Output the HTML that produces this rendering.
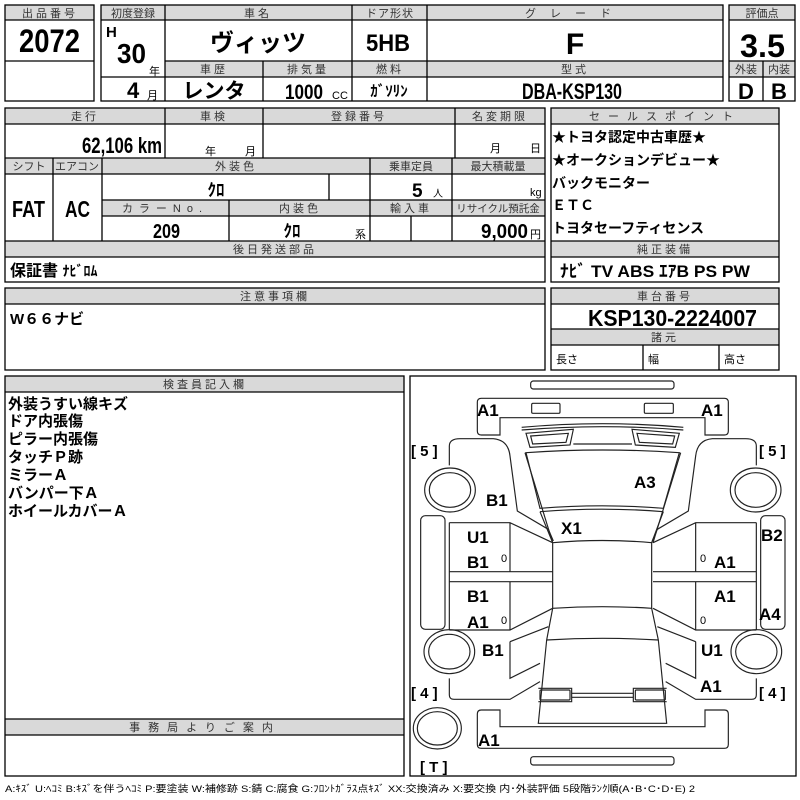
<!DOCTYPE html>
<html><head><meta charset="utf-8"><style>
html,body{margin:0;padding:0;background:#fff}
svg{display:block}
text{font-family:"Liberation Sans","Noto Sans CJK JP",sans-serif;fill:#000}
.h{font-size:11px;fill:#333;text-anchor:middle;letter-spacing:3px}
.b{font-weight:bold;font-family:"Liberation Sans","Noto Sans CJK JP",sans-serif}
.c{text-anchor:middle}
.l{font-weight:bold;font-size:17px;font-family:"Liberation Sans","Noto Sans CJK JP",sans-serif}
</style></head><body>
<svg width="800" height="800" viewBox="0 0 800 800" xmlns="http://www.w3.org/2000/svg">
<g fill="#d9d9d9" stroke="none">
<rect x="5" y="5" width="89" height="15"/>
<rect x="101" y="5" width="622" height="15"/>
<rect x="165" y="61" width="558" height="16"/>
<rect x="729" y="5" width="66" height="15"/>
<rect x="729" y="61" width="66" height="16"/>
<rect x="5" y="108" width="540" height="16"/>
<rect x="5" y="158" width="540" height="16"/>
<rect x="102" y="200" width="443" height="16"/>
<rect x="5" y="241" width="540" height="16"/>
<rect x="551" y="108" width="228" height="16"/>
<rect x="551" y="241" width="228" height="16"/>
<rect x="5" y="288" width="540" height="16"/>
<rect x="551" y="288" width="228" height="16"/>
<rect x="551" y="329" width="228" height="16"/>
<rect x="5" y="376" width="399" height="16"/>
<rect x="5" y="719" width="399" height="16"/>
</g>
<g fill="none" stroke="#000" stroke-width="1.3">
<rect x="5" y="5" width="89" height="96"/>
<path d="M5 20H94M5 61H94"/>
<rect x="101" y="5" width="622" height="96"/>
<path d="M101 20H723M165 61H723M101 77H723M165 5V101M352 5V101M427 5V101M263 61V101"/>
<rect x="729" y="5" width="66" height="96"/>
<path d="M729 20H795M729 61H795M729 77H795M763 61V101"/>
<rect x="5" y="108" width="540" height="174"/>
<path d="M5 124H545M5 158H545M5 174H545M102 200H545M102 216H545M5 241H545M5 257H545"/>
<path d="M165 108V158M263 108V158M455 108V158M53 158V241M102 158V241M370 158V241M452 158V241M329 174V200M229 200V241M411 216V241"/>
<rect x="551" y="108" width="228" height="174"/>
<path d="M551 124H779M551 241H779M551 257H779"/>
<rect x="5" y="288" width="540" height="82"/>
<path d="M5 304H545"/>
<rect x="551" y="288" width="228" height="82"/>
<path d="M551 304H779M551 329H779M551 345H779M643 345V370M719 345V370"/>
<rect x="5" y="376" width="399" height="400"/>
<path d="M5 392H404M5 719H404M5 735H404"/>
<rect x="410" y="376" width="386" height="400"/>
</g>
<text class="h" x="50" y="17">出品番号</text>
<text class="h" x="133" y="17" style="letter-spacing:0">初度登録</text>
<text class="h" x="258" y="17">車名</text>
<text class="h" x="390" y="17" style="letter-spacing:1px">ドア形状</text>
<text class="h" x="575" y="17" style="letter-spacing:14px">グレード</text>
<text class="h" x="762" y="17" style="letter-spacing:0">評価点</text>
<text class="h" x="214" y="73">車歴</text>
<text class="h" x="308" y="73">排気量</text>
<text class="h" x="390" y="73">燃料</text>
<text class="h" x="575" y="73">型式</text>
<text class="h" x="746" y="73" style="letter-spacing:0">外装</text>
<text class="h" x="779" y="73" style="letter-spacing:0">内装</text>
<text class="b" x="19" y="52" font-size="32" textLength="61" lengthAdjust="spacingAndGlyphs">2072</text>
<text class="b" x="106" y="37" font-size="15">H</text>
<text class="b" x="117" y="63" font-size="28" textLength="29" lengthAdjust="spacingAndGlyphs">30</text>
<text x="149" y="75" font-size="11">年</text>
<text class="b" x="127" y="98" font-size="22">4</text>
<text x="147" y="99" font-size="11">月</text>
<text class="b c" x="258" y="51" font-size="24">ヴィッツ</text>
<text class="b" x="366" y="51" font-size="24" textLength="44" lengthAdjust="spacingAndGlyphs">5HB</text>
<text class="b c" x="575" y="54" font-size="30">F</text>
<text class="b" x="740" y="57" font-size="32" textLength="45" lengthAdjust="spacingAndGlyphs">3.5</text>
<text class="b c" x="214" y="98" font-size="21">レンタ</text>
<text class="b" x="285" y="99" font-size="21" textLength="38" lengthAdjust="spacingAndGlyphs">1000</text>
<text x="332" y="99" font-size="11">CC</text>
<text class="b c" x="389" y="96" font-size="15">ｶﾞｿﾘﾝ</text>
<text class="b" x="522" y="99" font-size="22" textLength="100" lengthAdjust="spacingAndGlyphs">DBA-KSP130</text>
<text class="b c" x="746" y="99" font-size="22">D</text>
<text class="b c" x="779" y="99" font-size="22">B</text>
<text class="h" x="85" y="120">走行</text>
<text class="h" x="214" y="120">車検</text>
<text class="h" x="359" y="120">登録番号</text>
<text class="h" x="500" y="120">名変期限</text>
<text class="b" x="82" y="153" font-size="22" textLength="80" lengthAdjust="spacingAndGlyphs">62,106 km</text>
<text x="205" y="155" font-size="11">年</text>
<text x="245" y="155" font-size="11">月</text>
<text x="490" y="152" font-size="11">月</text>
<text x="530" y="152" font-size="11">日</text>
<text class="h" x="29" y="170" style="letter-spacing:0">シフト</text>
<text class="h" x="77" y="170" style="letter-spacing:0">エアコン</text>
<text class="h" x="236" y="170">外装色</text>
<text class="h" x="411" y="170" style="letter-spacing:0">乗車定員</text>
<text class="h" x="498" y="170" style="letter-spacing:0">最大積載量</text>
<text class="b" x="12" y="217" font-size="23" textLength="33" lengthAdjust="spacingAndGlyphs">FAT</text>
<text class="b" x="65" y="217" font-size="23" textLength="25" lengthAdjust="spacingAndGlyphs">AC</text>
<text class="b c" x="216" y="196" font-size="17">ｸﾛ</text>
<text class="b" x="412" y="197" font-size="19">5</text>
<text x="433" y="197" font-size="10">人</text>
<text x="530" y="196" font-size="11">kg</text>
<text class="h" x="165" y="212" style="letter-spacing:6px">カラーNo.</text>
<text class="h" x="300" y="212">内装色</text>
<text class="h" x="411" y="212">輸入車</text>
<text class="h" x="498" y="212" style="letter-spacing:0;font-size:10.5px">リサイクル預託金</text>
<text class="b" x="153" y="238" font-size="20" textLength="27" lengthAdjust="spacingAndGlyphs">209</text>
<text class="b c" x="292" y="237" font-size="17">ｸﾛ</text>
<text x="355" y="238" font-size="11">系</text>
<text class="b" x="481" y="238" font-size="20" textLength="47" lengthAdjust="spacingAndGlyphs">9,000</text>
<text x="530" y="238" font-size="11">円</text>
<text class="h" x="275" y="253">後日発送部品</text>
<text class="b" x="10" y="276" font-size="16">保証書 <tspan font-size="14">ﾅﾋﾞﾛﾑ</tspan></text>
<text class="h" x="665" y="120" style="letter-spacing:8px">セールスポイント</text>
<g font-weight="bold" font-size="14">
<text x="552" y="142">★トヨタ認定中古車歴★</text>
<text x="552" y="165">★オークションデビュー★</text>
<text x="552" y="188">バックモニター</text>
<text x="552" y="210">ＥＴＣ</text>
<text x="552" y="233">トヨタセーフティセンス</text>
</g>
<text class="h" x="665" y="253">純正装備</text>
<text class="b" x="560" y="277" font-size="17" textLength="190" lengthAdjust="spacingAndGlyphs">ﾅﾋﾞ  TV  ABS ｴｱB PS PW</text>
<text class="h" x="275" y="300">注意事項欄</text>
<text class="b" x="10" y="324" font-size="15">W６６ナビ</text>
<text class="h" x="665" y="300">車台番号</text>
<text class="b" x="588" y="326" font-size="23" textLength="169" lengthAdjust="spacingAndGlyphs">KSP130-2224007</text>
<text class="h" x="665" y="341">諸元</text>
<text x="556" y="363" font-size="11">長さ</text>
<text x="648" y="363" font-size="11">幅</text>
<text x="724" y="363" font-size="11">高さ</text>
<text class="h" x="205" y="388">検査員記入欄</text>
<g font-weight="bold" font-size="15">
<text x="8" y="409">外装うすい線キズ</text>
<text x="8" y="426">ドア内張傷</text>
<text x="8" y="444">ピラー内張傷</text>
<text x="8" y="462">タッチＰ跡</text>
<text x="8" y="480">ミラーＡ</text>
<text x="8" y="498">バンパー下Ａ</text>
<text x="8" y="516">ホイールカバーＡ</text>
</g>
<text class="h" x="205" y="731" style="letter-spacing:8px">事務局よりご案内</text>
<text x="5" y="792" font-size="9.5" fill="#333" textLength="690" lengthAdjust="spacingAndGlyphs">A:ｷｽﾞ U:ﾍｺﾐ B:ｷｽﾞを伴うﾍｺﾐ P:要塗装 W:補修跡 S:錆 C:腐食 G:ﾌﾛﾝﾄｶﾞﾗｽ点ｷｽﾞ XX:交換済み X:要交換  内･外装評価  5段階ﾗﾝｸ順(A･B･C･D･E) 2</text>
<g transform="translate(400,370) scale(0.33333)" fill="none" stroke="#222" stroke-width="3.5">
<rect x="392" y="33" width="430" height="24" rx="8"/>
<rect x="392" y="1160" width="430" height="25" rx="8"/>
<path d="M244 85H973Q985 85 985 97V183Q985 195 973 195H915V143H300V195H244Q232 195 232 183V97Q232 85 244 85Z"/>
<path d="M244 1135H973Q985 1135 985 1123V1032Q985 1020 973 1020H915V1070H300V1020H244Q232 1020 232 1032V1123Q232 1135 244 1135Z"/>
<rect x="395" y="100" width="85" height="30" rx="4"/>
<rect x="733" y="100" width="87" height="30" rx="4"/>
<path d="M365 172Q607 150 850 172M365 180Q607 160 850 180"/>
<path d="M378 190L520 178L510 225L390 232Z M392 198L505 190L498 217L398 222Z"/>
<path d="M838 190L696 178L706 225L826 232Z M824 198L711 190L718 217L818 222Z"/>
<path d="M520 222H696"/>
<path d="M378 248Q607 232 838 248L790 415Q607 400 420 415Z"/>
<path d="M420 425Q607 410 790 425M420 425L458 518M790 425L755 518"/>
<path d="M458 518Q607 505 755 518V715Q607 705 458 715Z"/>
<path d="M458 715L440 810Q607 800 775 810L755 715M440 810L415 1060H800L775 810"/>
<path d="M415 955H515V995H415M800 955H700V995H800M515 970H700M515 982H700"/>
<rect x="420" y="960" width="90" height="30" rx="3"/>
<rect x="706" y="960" width="90" height="30" rx="3"/>
<g id="side">
<path d="M148 286V228Q148 206 180 206H280Q325 210 330 258L352 423L445 478L460 513"/>
<path d="M375 248L458 518"/>
<path d="M148 458H330L458 518M330 458V605M148 458V780M148 605H458M148 635H458M330 635V780M148 780H330L458 715"/>
<path d="M148 925V975Q148 988 162 988H330L420 935M330 815L445 770M330 815V925L420 880"/>
<ellipse cx="150" cy="360" rx="76" ry="66"/><ellipse cx="150" cy="360" rx="62" ry="52"/>
<ellipse cx="148" cy="845" rx="76" ry="66"/><ellipse cx="148" cy="845" rx="62" ry="52"/>
<rect x="62" y="437" width="73" height="341" rx="14"/>
</g>
<use href="#side" transform="translate(1217,0) scale(-1,1)"/>
<ellipse cx="112" cy="1075" rx="72" ry="62"/><ellipse cx="112" cy="1075" rx="60" ry="50"/>
</g>
<g class="l">
<text x="477" y="416">A1</text>
<text x="701" y="416">A1</text>
<text x="634" y="488">A3</text>
<text x="486" y="506">B1</text>
<text x="561" y="534">X1</text>
<text x="467" y="543">U1</text>
<text x="761" y="541">B2</text>
<text x="467" y="568">B1</text>
<text x="714" y="568">A1</text>
<text x="467" y="602">B1</text>
<text x="714" y="602">A1</text>
<text x="467" y="628">A1</text>
<text x="759" y="620">A4</text>
<text x="482" y="656">B1</text>
<text x="701" y="656">U1</text>
<text x="700" y="692">A1</text>
<text x="478" y="746">A1</text>
</g>
<g font-size="11" fill="#222">
<text x="501" y="562">0</text><text x="700" y="562">0</text>
<text x="501" y="624">0</text><text x="700" y="624">0</text>
</g>
<g font-size="15" font-weight="bold">
<text x="411" y="456">[ 5 ]</text>
<text x="759" y="456">[ 5 ]</text>
<text x="411" y="698">[ 4 ]</text>
<text x="759" y="698">[ 4 ]</text>
<text x="420" y="772">[ T ]</text>
</g>
</svg>
</body></html>
